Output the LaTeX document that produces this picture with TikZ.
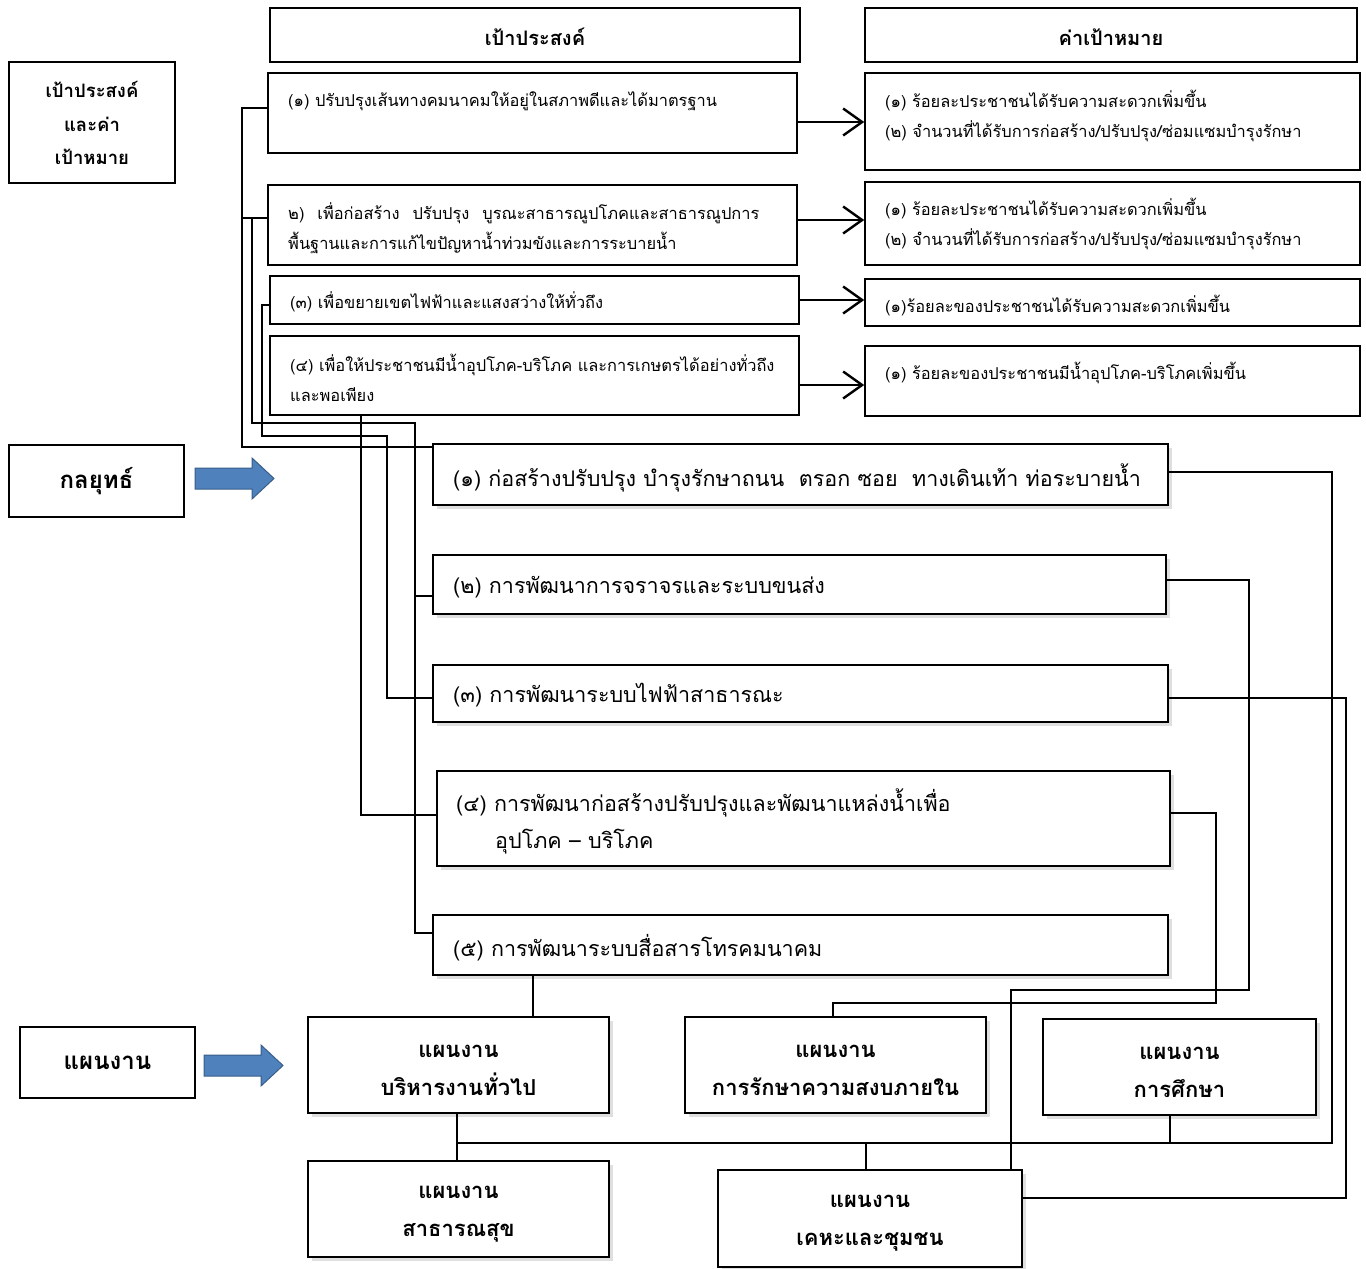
\documentclass[tikz,border=0pt]{standalone}
\usepackage{fontspec}
\setmainfont[Script=Thai]{Loma}
\usetikzlibrary{arrows.meta,fit,shadows}
\definecolor{arrowblue}{RGB}{79,129,189}
\definecolor{arrowedge}{RGB}{56,93,138}
\begin{document}
\begin{tikzpicture}[x=1pt,y=-1pt,
  bx/.style={draw, line width=1.6pt, inner sep=0pt, fit={#1}},
  sbx/.style={bx={#1}, fill=white, drop shadow={shadow xshift=4pt, shadow yshift=-4pt, opacity=0.25}},
  conn/.style={line width=1.6pt},
  goal/.style={line width=2.4pt, -{Straight Barb[length=19pt,width=27pt,line width=2.4pt]}},
  txt/.style={inner sep=0pt, anchor=west, align=left},
  ftO/.style={txt, font=\fontsize{16.4pt}{30pt}\selectfont},
  ftS/.style={txt, font=\fontsize{21.5pt}{39pt}\selectfont},
  ftH/.style={inner sep=0pt, align=center, font=\fontsize{20pt}{33.5pt}\selectfont\bfseries},
  ftHL/.style={inner sep=0pt, align=center, font=\fontsize{18.5pt}{33.5pt}\selectfont\bfseries},
  ftP/.style={inner sep=0pt, align=center, font=\fontsize{22pt}{38pt}\selectfont\bfseries},
  ftL/.style={inner sep=0pt, align=center, font=\fontsize{24pt}{28pt}\selectfont\bfseries},
  bluearrow/.style={draw=arrowedge, fill=arrowblue, line width=1pt}
]
\useasboundingbox (0,0) rectangle (1366,1269);

% headers
\node[bx={(270,8) (800,62)}] (h1) {};
\node[ftH] (h1t) at ([yshift=-2pt]h1.center) {เป้าประสงค์};
\node[bx={(865,8) (1357,62)}] (h2) {};
\node[ftH] (h2t) at ([yshift=-2pt]h2.center) {ค่าเป้าหมาย};

% left labels
\node[bx={(9,62) (175,183)}] (l1) {};
\node[ftHL] (l1t) at (92,123) {เป้าประสงค์\\และค่า\\เป้าหมาย};
\node[bx={(9,445) (184,517)}] (l2) {};
\node[ftL] (l2t) at (l2.center) {กลยุทธ์};
\node[bx={(20,1027) (195,1098)}] (l3) {};
\node[ftL] (l3t) at (l3.center) {แผนงาน};

% blue arrows
\path[bluearrow] (195,468) -- (252,468) -- (252,458) -- (274,478.5) -- (252,499) -- (252,489) -- (195,489) -- cycle;
\path[bluearrow] (204,1055) -- (261,1055) -- (261,1045) -- (283,1065.5) -- (261,1086) -- (261,1076) -- (204,1076) -- cycle;

% objectives
\node[bx={(268,73) (797,153)}] (o1) {};
\node[ftO] (o1t) at (288,101) {(๑) ปรับปรุงเส้นทางคมนาคมให้อยู่ในสภาพดีและได้มาตรฐาน};
\node[bx={(268,185) (797,265)}] (o2) {};
\node[ftO] (o2t) at (288,228) {๒)\hspace{13pt}เพื่อก่อสร้าง\hspace{13pt}ปรับปรุง\hspace{13pt}บูรณะสาธารณูปโภคและสาธารณูปการ\\พื้นฐานและการแก้ไขปัญหาน้ำท่วมขังและการระบายน้ำ};
\node[bx={(270,276) (799,324)}] (o3) {};
\node[ftO] (o3t) at (290,302) {(๓) เพื่อขยายเขตไฟฟ้าและแสงสว่างให้ทั่วถึง};
\node[bx={(270,336) (799,415)}] (o4) {};
\node[ftO] (o4t) at (290,378) {(๔) เพื่อให้ประชาชนมีน้ำอุปโภค-บริโภค และการเกษตรได้อย่างทั่วถึง\\และพอเพียง};

% targets
\node[bx={(865,73) (1360,170)}] (t1) {};
\node[ftO] (t1t) at (885,116) {(๑) ร้อยละประชาชนได้รับความสะดวกเพิ่มขึ้น\\(๒) จำนวนที่ได้รับการก่อสร้าง/ปรับปรุง/ซ่อมแซมบำรุงรักษา};
\node[bx={(865,182) (1360,265)}] (t2) {};
\node[ftO] (t2t) at (885,224) {(๑) ร้อยละประชาชนได้รับความสะดวกเพิ่มขึ้น\\(๒) จำนวนที่ได้รับการก่อสร้าง/ปรับปรุง/ซ่อมแซมบำรุงรักษา};
\node[bx={(865,279) (1360,326)}] (t3) {};
\node[ftO] (t3t) at (885,306) {(๑)ร้อยละของประชาชนได้รับความสะดวกเพิ่มขึ้น};
\node[bx={(865,346) (1360,416)}] (t4) {};
\node[ftO] (t4t) at (885,373) {(๑) ร้อยละของประชาชนมีน้ำอุปโภค-บริโภคเพิ่มขึ้น};

% objective -> target arrows
\draw[goal] (o1.east |- 0,122) -- (t1.west |- 0,122);
\draw[goal] (o2.east |- 0,220) -- (t2.west |- 0,220);
\draw[goal] (o3.east |- 0,300) -- (t3.west |- 0,300);
\draw[goal] (o4.east |- 0,385) -- (t4.west |- 0,385);

% strategies
\node[sbx={(433,444) (1168,505)}] (s1) {};
\node[ftS] (s1t) at (453,478) {(๑) ก่อสร้างปรับปรุง บำรุงรักษาถนน\ \ ตรอก ซอย\ \ ทางเดินเท้า ท่อระบายน้ำ};
\node[sbx={(433,555) (1166,614)}] (s2) {};
\node[ftS] (s2t) at (453,587) {(๒) การพัฒนาการจราจรและระบบขนส่ง};
\node[sbx={(433,665) (1168,722)}] (s3) {};
\node[ftS] (s3t) at (453,695) {(๓) การพัฒนาระบบไฟฟ้าสาธารณะ};
\node[sbx={(437,771) (1170,866)}] (s4) {};
\node[ftS] (s4t) at (456,803) {(๔) การพัฒนาก่อสร้างปรับปรุงและพัฒนาแหล่งน้ำเพื่อ};
\node[ftS] (s4u) at (495,842) {อุปโภค – บริโภค};
\node[sbx={(433,915) (1168,975)}] (s5) {};
\node[ftS] (s5t) at (453,948) {(๕) การพัฒนาระบบสื่อสารโทรคมนาคม};

% plans
\node[sbx={(308,1017) (609,1113)}] (p1) {};
\node[ftP] (p1t) at ([yshift=-5pt]p1.center) {แผนงาน\\บริหารงานทั่วไป};
\node[sbx={(685,1017) (986,1113)}] (p2) {};
\node[ftP] (p2t) at ([yshift=-5pt]p2.center) {แผนงาน\\การรักษาความสงบภายใน};
\node[sbx={(1043,1019) (1316,1115)}] (p3) {};
\node[ftP] (p3t) at ([yshift=-5pt]p3.center) {แผนงาน\\การศึกษา};
\node[sbx={(308,1161) (609,1257)}] (p4) {};
\node[ftP] (p4t) at ([yshift=-5pt]p4.center) {แผนงาน\\สาธารณสุข};
\node[sbx={(718,1170) (1022,1267)}] (p5) {};
\node[ftP] (p5t) at ([yshift=-5pt]p5.center) {แผนงาน\\เคหะและชุมชน};

% left connectors
\coordinate (jB) at (415,596);
\draw[conn] (o1.west |- 0,108) -| (242,447) -- (s1.west |- 0,447);
\draw[conn] (o2.west |- 0,218) -- (242,218);
\draw[conn] (o2.west |- 0,218) -| (252,423) -| (415,933) -- (s5.west |- 0,933);
\draw[conn] (jB) -- (s2.west |- jB);
\draw[conn] (o3.west |- 0,305) -| (262,436) -| (387,698) -- (s3.west |- 0,698);
\draw[conn] (o4.south -| 361,0) |- (s4.west |- 0,815);

% right connectors
\coordinate (busL) at (457,1143);
\draw[conn] (s1.east |- 0,472) -| (1332,1143) -- (busL);
\draw[conn] (p1.south -| busL) -- (p4.north -| busL);
\draw[conn] (p3.south -| 1170,0) -- (1170,1143);
\draw[conn] (866,1143) -- (p5.north -| 866,0);
\draw[conn] (s2.east |- 0,580) -| (1249,990) -| (p5.north -| 1011,0);
\draw[conn] (s3.east |- 0,698) -| (1346,1198) -- (p5.east |- 0,1198);
\draw[conn] (s4.east |- 0,813) -| (1216,1003) -| (p2.north -| 833,0);
\draw[conn] (s5.south -| 533,0) -- (p1.north -| 533,0);
\end{tikzpicture}
\end{document}
